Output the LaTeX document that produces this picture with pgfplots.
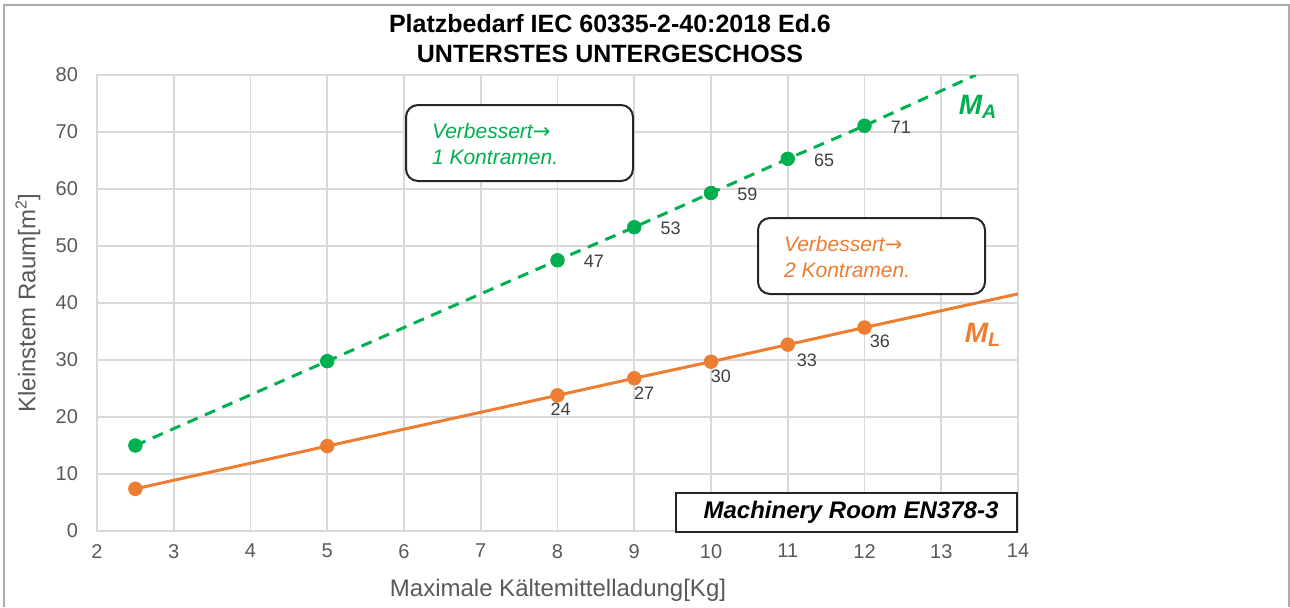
\documentclass[border=0pt]{standalone}
\usepackage{pgfplots}
\pgfplotsset{compat=1.18}
\usepackage{fontspec}
\setmainfont{Liberation Sans}
\newfontfamily\symfont{DejaVu Sans}
\definecolor{xlgreen}{HTML}{00B050}
\definecolor{xlorange}{HTML}{ED7D31}
\definecolor{gridgray}{HTML}{D9D9D9}
\definecolor{ticktext}{HTML}{595959}
\definecolor{lbltext}{HTML}{404040}
\definecolor{boxline}{HTML}{262626}
\newcommand{\rarr}{{\symfont\upshape →}}

\begin{document}
\begin{tikzpicture}[x=1pt,y=1pt]
\useasboundingbox (0,0) rectangle (645,303.5);
% chart frame (bottom edge cropped in the original)
\draw[gray!65, line width=1pt] (2,0) -- (2,301) -- (644.5,301) -- (644.5,0);

\begin{axis}[
  at={(48.5pt,38pt)}, anchor=south west,
  scale only axis, width=460.5pt, height=228pt,
  xmin=2, xmax=14, ymin=0, ymax=80,
  xtick={2,3,...,14}, ytick={0,10,...,80},
  grid=major, grid style={gridgray, line width=0.9pt},
  axis line style={gridgray, line width=0.9pt},
  major tick length=0pt,
  tick label style={font=\fontsize{10}{12}\selectfont, text=ticktext},
  /pgf/number format/assume math mode=true,
  xticklabel style={yshift=-3pt},
  yticklabel style={xshift=-6pt},
  clip=true,
]
% M_A: dashed trend line and points
\addplot[xlgreen, line width=1.5pt, dash pattern=on 5.5pt off 4pt]
  coordinates {(2.5,15.0) (5,29.8) (8,47.5) (9,53.3) (10,59.3) (11,65.3) (12,71.1) (13.45,80)};
\addplot[only marks, mark=*, mark size=3.4pt, xlgreen]
  coordinates {(2.5,15.0) (5,29.8) (8,47.5) (9,53.3) (10,59.3) (11,65.3) (12,71.1)};
% M_L: solid trend line and points
\addplot[xlorange, line width=1.5pt]
  coordinates {(2.5,7.4) (5,14.9) (8,23.8) (9,26.8) (10,29.7) (11,32.7) (12,35.7) (14,41.6)};
\addplot[only marks, mark=*, mark size=3.4pt, xlorange]
  coordinates {(2.5,7.4) (5,14.9) (8,23.8) (9,26.8) (10,29.7) (11,32.7) (12,35.7)};

% data labels
\begin{scope}[every node/.style={font=\fontsize{9}{11}\selectfont, text=lbltext}]
\node[anchor=west] at (axis cs:8.25,47.3) {47};
\node[anchor=west] at (axis cs:9.25,53.1) {53};
\node[anchor=west] at (axis cs:10.25,59.0) {59};
\node[anchor=west] at (axis cs:11.25,65.0) {65};
\node[anchor=west] at (axis cs:12.25,70.8) {71};
\node at (axis cs:8.04,21.3) {24};
\node at (axis cs:9.13,24.1) {27};
\node at (axis cs:10.13,27.1) {30};
\node at (axis cs:11.25,29.9) {33};
\node at (axis cs:12.2,33.2) {36};
\end{scope}
\end{axis}

% title
\node[align=center, font=\fontsize{12.5}{15}\selectfont\bfseries] at (305,284)
  {Platzbedarf IEC 60335-2-40:2018 Ed.6\\UNTERSTES UNTERGESCHOSS};
% axis titles
\node[font=\fontsize{12}{14}\selectfont, text=ticktext] at (279,8.5)
  {Maximale Kältemittelladung[Kg]};
\node[font=\fontsize{12}{14}\selectfont, text=ticktext, rotate=90] at (14,152)
  {Kleinstem Raum[m\textsuperscript{2}]};

% annotation boxes
\draw[boxline, line width=1pt, rounded corners=6pt, fill=white] (203,213) rectangle (316.5,251);
\node[anchor=west, align=left, text=xlgreen, font=\fontsize{10.5}{13}\selectfont\itshape]
  at (212.5,231.5) {Verbessert\rarr\\1 Kontramen.};
\draw[boxline, line width=1pt, rounded corners=6pt, fill=white] (379,156.5) rectangle (492.5,194.5);
\node[anchor=west, align=left, text=xlorange, font=\fontsize{10.5}{13}\selectfont\itshape]
  at (388.5,175) {Verbessert\rarr\\2 Kontramen.};

\draw[boxline, line width=1pt, fill=white] (338,37.5) rectangle (508.5,57);
\node[font=\fontsize{12}{14}\selectfont\bfseries\itshape] at (425.5,47.5)
  {Machinery Room EN378-3};

% series names
\node[text=xlgreen, font=\fontsize{14}{16}\selectfont\bfseries\itshape] at (489,250)
  {M\textsubscript{A}};
\node[text=xlorange, font=\fontsize{14}{16}\selectfont\bfseries\itshape] at (491.5,136)
  {M\textsubscript{L}};
\end{tikzpicture}
\end{document}
